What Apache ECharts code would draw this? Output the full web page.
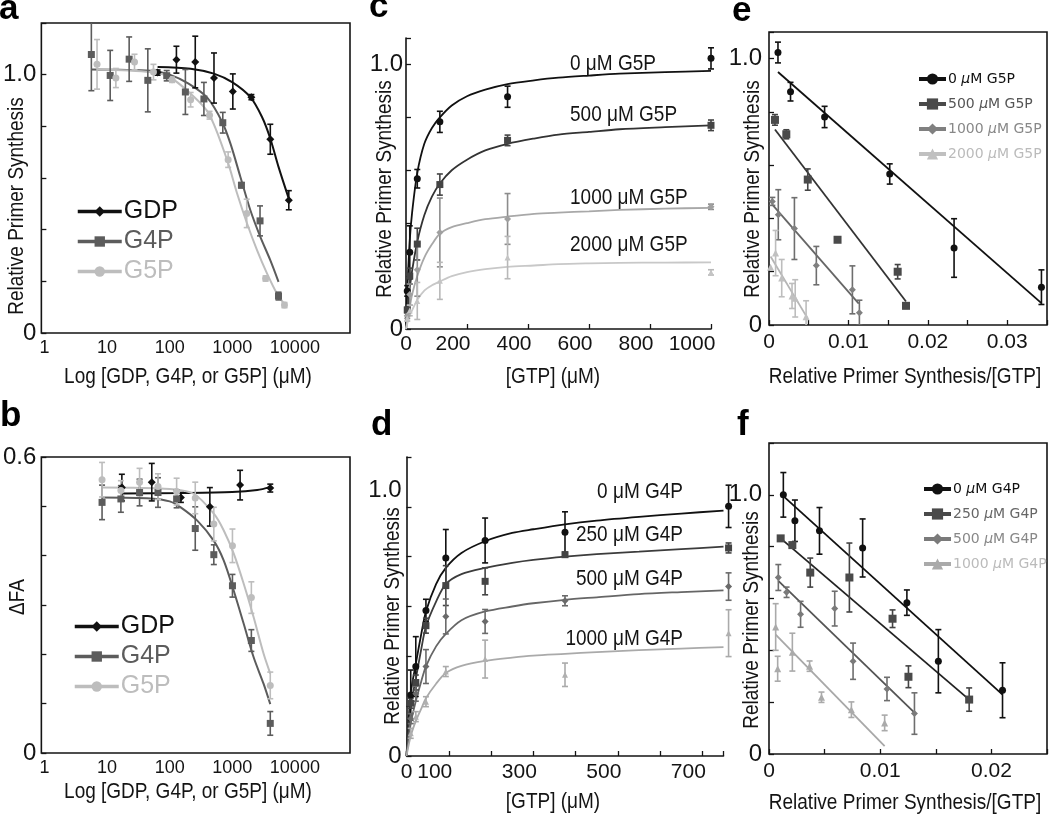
<!DOCTYPE html>
<html>
<head>
<meta charset="utf-8">
<script src="https://cdn.jsdelivr.net/npm/echarts@6/dist/echarts.min.js"></script>
<style>
  html, body { margin: 0; padding: 0; background: #fff; }
  #chart { width: 1050px; height: 816px; }
</style>
</head>
<body>
<div id="chart"></div>
<script>
// ---------- panel a : primer synthesis vs inhibitor (log) ----------
const aGdpConc = [64, 128, 256, 510, 1020, 2020, 4050, 8000];
const aGdpVal = [1.008, 1.058, 1.049, 0.987, 0.935, 0.913, 0.75, 0.514];
const aGdpErr = [0.01, 0.052, 0.1, 0.097, 0.068, 0.01, 0.058, 0.037];
const aG4pConc = [5.6, 11.2, 22.5, 44.7, 89.6, 178, 352, 705, 1400, 2775, 5480];
const aG4pVal = [1.078, 0.997, 1.06, 0.978, 0.996, 0.933, 0.906, 0.814, 0.572, 0.434, 0.143];
const aG4pErr = [0.14, 0.097, 0.086, 0.122, 0.02, 0.087, 0.064, 0.04, 0.01, 0.058, 0.015];
const aG5pConc = [6.9, 13.8, 27.4, 55, 109, 216, 433, 859, 1700, 3406, 6820];
const aG5pVal = [1.04, 0.987, 1.049, 1.01, 0.98, 0.903, 0.843, 0.671, 0.463, 0.211, 0.108];
const aG5pErr = [0.096, 0.037, 0.03, 0.03, 0.01, 0.028, 0.015, 0.03, 0.055, 0.01, 0.01];
// fitted curves
const aGdpFitX = [64, 216, 507, 994, 1945, 2985, 4045, 5480, 8000];
const aGdpFitY = [1.03, 1.023, 1.004, 0.971, 0.913, 0.836, 0.753, 0.643, 0.52];
const aG4pFitX = [5.6, 50, 100, 200, 400, 689, 935, 1348, 1945, 2805, 4045, 5480];
const aG4pFitY = [1.02, 1.015, 1.0, 0.965, 0.91, 0.817, 0.733, 0.604, 0.475, 0.372, 0.282, 0.198];
const aG5pFitX = [6.9, 50, 100, 214, 422, 828, 1194, 1722, 2484, 3583, 5168, 7010];
const aG5pFitY = [1.02, 1.01, 0.99, 0.927, 0.849, 0.669, 0.54, 0.424, 0.321, 0.231, 0.153, 0.108];

// ---------- panel b : delta FA vs inhibitor (log) ----------
const bGdpConc = [17.2, 51.7, 151, 438, 1333, 4045];
const bGdpVal = [0.538, 0.549, 0.518, 0.499, 0.543, 0.537];
const bGdpErr = [0.027, 0.038, 0.01, 0.039, 0.03, 0.008];
const bConc = [8.3, 16.6, 33, 65, 129, 256, 507, 1006, 2017, 4045];
const bG4pVal = [0.508, 0.515, 0.528, 0.528, 0.515, 0.455, 0.402, 0.339, 0.228, 0.06];
const bG4pErr = [0.035, 0.027, 0.027, 0.03, 0.018, 0.044, 0.02, 0.023, 0.022, 0.024];
const bG5pVal = [0.554, 0.532, 0.549, 0.54, 0.53, 0.517, 0.464, 0.42, 0.315, 0.137];
const bG5pErr = [0.035, 0.02, 0.028, 0.026, 0.027, 0.032, 0.034, 0.034, 0.032, 0.027];
const bGdpFitX = [17.2, 150, 1000, 2500, 4045];
const bGdpFitY = [0.526, 0.527, 0.529, 0.533, 0.539];
const bG4pFitX = [8.3, 50, 100, 150, 276, 507, 731, 1055, 1522, 2194, 3166, 4045];
const bG4pFitY = [0.518, 0.516, 0.51, 0.498, 0.471, 0.43, 0.39, 0.329, 0.262, 0.194, 0.14, 0.099];
const bG5pFitX = [8.3, 100, 244, 507, 731, 1055, 1522, 2194, 3166, 4045];
const bG5pFitY = [0.538, 0.535, 0.525, 0.485, 0.451, 0.404, 0.343, 0.275, 0.201, 0.161];

// ---------- panel c : GTP titration with G5P ----------
const cGtp = [4.1, 12.3, 37, 111, 333, 1000];
const c0Val = [0.144, 0.29, 0.568, 0.783, 0.878, 1.023];
const c0Err = [0.02, 0.1, 0.035, 0.04, 0.04, 0.04];
const c500Val = [0.072, 0.2, 0.321, 0.546, 0.713, 0.77];
const c500Err = [0.01, 0.03, 0.06, 0.04, 0.02, 0.02];
const c1000Val = [0.05, 0.13, 0.224, 0.365, 0.416, 0.462];
const c1000Err = [0.01, 0.04, 0.1, 0.13, 0.096, 0.01];
const c2000Val = [0.04, 0.07, 0.106, 0.182, 0.27, 0.214];
const c2000Err = [0.01, 0.02, 0.07, 0.07, 0.08, 0.01];
const cFitGtp = [0, 4, 12, 20, 37, 60, 85, 111, 150, 200, 260, 333, 420, 500, 600, 700, 850, 1000];
const c0Fit = [0, 0.14, 0.33, 0.44, 0.59, 0.7, 0.76, 0.8, 0.845, 0.88, 0.905, 0.926, 0.94, 0.95, 0.958, 0.965, 0.971, 0.976];
const c500Fit = [0, 0.06, 0.15, 0.22, 0.33, 0.43, 0.5, 0.55, 0.6, 0.64, 0.675, 0.7, 0.72, 0.735, 0.745, 0.755, 0.763, 0.77];
const c1000Fit = [0, 0.03, 0.08, 0.13, 0.2, 0.27, 0.32, 0.36, 0.385, 0.4, 0.415, 0.425, 0.435, 0.44, 0.445, 0.45, 0.455, 0.458];
const c2000Fit = [0, 0.02, 0.05, 0.07, 0.11, 0.145, 0.165, 0.18, 0.2, 0.215, 0.226, 0.235, 0.24, 0.245, 0.248, 0.25, 0.251, 0.252];
const cLabels = ['0 μM G5P', '500 μM G5P', '1000 μM G5P', '2000 μM G5P'];

// ---------- panel d : GTP titration with G4P ----------
const dGtp = [10, 22, 46, 93, 186, 375, 762];
const d0Val = [0.245, 0.359, 0.584, 0.795, 0.865, 0.898, 1.002];
const d0Err = [0.1, 0.12, 0.045, 0.114, 0.09, 0.082, 0.085];
const d250Val = [0.212, 0.295, 0.523, 0.684, 0.701, 0.808, 0.835];
const d250Err = [0.02, 0.03, 0.03, 0.08, 0.054, 0.01, 0.02];
const d500Val = [0.15, 0.25, 0.359, 0.56, 0.54, 0.623, 0.68];
const d500Err = [0.02, 0.03, 0.068, 0.07, 0.048, 0.02, 0.055];
const d1000Val = [0.091, 0.158, 0.218, 0.339, 0.389, 0.326, 0.493];
const d1000Err = [0.02, 0.02, 0.02, 0.02, 0.076, 0.047, 0.094];
const dFitGtp = [0, 10, 22, 35, 46, 70, 93, 130, 186, 250, 300, 375, 450, 550, 650, 750];
const d0Fit = [0, 0.25, 0.37, 0.49, 0.58, 0.69, 0.755, 0.815, 0.862, 0.895, 0.91, 0.93, 0.945, 0.96, 0.973, 0.985];
const d250Fit = [0, 0.2, 0.31, 0.43, 0.52, 0.62, 0.69, 0.73, 0.755, 0.775, 0.787, 0.8, 0.81, 0.82, 0.83, 0.84];
const d500Fit = [0, 0.13, 0.22, 0.3, 0.36, 0.44, 0.49, 0.545, 0.58, 0.6, 0.613, 0.627, 0.637, 0.65, 0.658, 0.665];
const d1000Fit = [0, 0.08, 0.14, 0.19, 0.232, 0.29, 0.333, 0.362, 0.382, 0.395, 0.403, 0.41, 0.417, 0.425, 0.431, 0.437];
const dLabels = ['0 μM G4P', '250 μM G4P', '500 μM G4P', '1000 μM G4P'];

// ---------- panel e : Eadie-Hofstee, G5P ----------
const e0X = [0.00113, 0.00271, 0.007, 0.0152, 0.0233, 0.0343];
const e0Y = [1.023, 0.876, 0.781, 0.567, 0.289, 0.142];
const e0Err = [0.039, 0.035, 0.04, 0.038, 0.11, 0.065];
const e500X = [0.00075, 0.00218, 0.00488, 0.00863, 0.0162, 0.01725];
const e500Y = [0.77, 0.716, 0.546, 0.32, 0.2, 0.072];
const e500Err = [0.02, 0.017, 0.04, 0, 0.027, 0];
const e1000X = [0.00042, 0.00117, 0.0032, 0.00596, 0.0105, 0.01138];
const e1000Y = [0.464, 0.414, 0.362, 0.223, 0.132, 0.046];
const e1000Err = [0.015, 0.094, 0.116, 0.072, 0.09, 0.047];
const e2000X = [0.0002, 0.00083, 0.0016, 0.0029, 0.0033, 0.00467];
const e2000Y = [0.217, 0.27, 0.176, 0.109, 0.1, 0.031];
const e2000Err = [0, 0.085, 0.07, 0.047, 0.07, 0.06];
const eFit0 = [[0.00113, 0.95], [0.0343, 0.082]];
const eFit500 = [[0.00075, 0.734], [0.01725, 0.088]];
const eFit1000 = [[0.00042, 0.452], [0.0113, 0.08]];
const eFit2000 = [[0.0002, 0.257], [0.00488, 0.024]];
const eNames = ['0 μM G5P', '500 μM G5P', '1000 μM G5P', '2000 μM G5P'];

// ---------- panel f : Eadie-Hofstee, G4P ----------
const f0X = [0.00129, 0.00233, 0.00454, 0.00842, 0.0124, 0.01523, 0.021];
const f0Y = [1.0, 0.9, 0.861, 0.795, 0.584, 0.358, 0.246];
const f0Err = [0.086, 0.08, 0.09, 0.112, 0.049, 0.122, 0.106];
const f250X = [0.00105, 0.0021, 0.00371, 0.00723, 0.01111, 0.01254, 0.018];
const f250Y = [0.832, 0.806, 0.7, 0.681, 0.522, 0.298, 0.21];
const f250Err = [0, 0.01, 0.056, 0.133, 0.034, 0.042, 0.045];
const f500X = [0.00084, 0.00158, 0.00284, 0.00591, 0.00756, 0.01061, 0.01308];
const f500Y = [0.681, 0.624, 0.539, 0.561, 0.358, 0.251, 0.156];
const f500Err = [0.05, 0.02, 0.05, 0.067, 0.07, 0.045, 0.08];
const f1000X = [0.0006, 0.00078, 0.0021, 0.00365, 0.00472, 0.00741, 0.0104];
const f1000Y = [0.49, 0.329, 0.393, 0.339, 0.219, 0.171, 0.12];
const f1000Err = [0.09, 0.048, 0.073, 0.02, 0.02, 0.03, 0.03];
const fFit0 = [[0.00129, 0.995], [0.021, 0.229]];
const fFit250 = [[0.00105, 0.832], [0.018, 0.21]];
const fFit500 = [[0.00084, 0.668], [0.01308, 0.16]];
const fFit1000 = [[0.0006, 0.461], [0.0104, 0.03]];

const FONT = '"Liberation Sans", Arial, Helvetica, sans-serif';
const INK = '#141414';

const chart = echarts.init(document.getElementById('chart'));

const zip = (xs, ys) => xs.map((x, i) => [x, ys[i]]);

// markers drawn as a line series with invisible line so the legend shows line + symbol
function points(g, name, xs, ys, color, symbol, size, clip = true) {
  return {
    type: 'line', name, xAxisIndex: g, yAxisIndex: g,
    data: zip(xs, ys), symbol, symbolSize: size, showSymbol: true,
    itemStyle: { color }, lineStyle: { opacity: 0, width: 0 },
    clip, z: 5, silent: true
  };
}

function errorBars(g, xs, ys, errs, color, clip = true) {
  return {
    type: 'custom', xAxisIndex: g, yAxisIndex: g, clip, z: 4, silent: true,
    encode: { x: 0, y: 1 },
    data: xs.map((x, i) => [x, ys[i], errs[i]]),
    renderItem: (params, api) => {
      const x = api.value(0), y = api.value(1), e = api.value(2);
      if (!(e > 0)) return null;
      const top = api.coord([x, y + e]);
      const bot = api.coord([x, y - e]);
      const w = 3, st = { stroke: color, lineWidth: 1.6 };
      return {
        type: 'group', children: [
          { type: 'line', shape: { x1: top[0], y1: top[1], x2: bot[0], y2: bot[1] }, style: st },
          { type: 'line', shape: { x1: top[0] - w, y1: top[1], x2: top[0] + w, y2: top[1] }, style: st },
          { type: 'line', shape: { x1: bot[0] - w, y1: bot[1], x2: bot[0] + w, y2: bot[1] }, style: st }
        ]
      };
    }
  };
}

function fitLine(g, data, color, width = 1.8) {
  return {
    type: 'line', xAxisIndex: g, yAxisIndex: g, data,
    smooth: 0.3, showSymbol: false, symbol: 'none',
    lineStyle: { color, width }, z: 3, silent: true
  };
}

const logLabel = v => {
  const l = Math.log10(v), r = Math.round(l);
  return Math.abs(l - r) < 1e-6 && r >= 0 ? String(Math.pow(10, r)) : '';
};
const oneLabel = v => Math.abs(v - 1) < 1e-6 ? '1.0' : (Math.abs(v) < 1e-9 ? '0' : '');

function logXAxis(g) {
  return {
    type: 'log', logBase: 10, gridIndex: g, min: 0.89, max: 76000,
    axisLine: { show: false }, axisTick: { show: false }, splitLine: { show: false },
    axisLabel: { formatter: logLabel, fontFamily: FONT, fontSize: 18, color: INK, margin: 6 }
  };
}

function valAxis(g, min, max, interval, formatter, opts = {}) {
  return {
    type: 'value', gridIndex: g, min, max, interval,
    axisLine: { show: !!opts.line, lineStyle: { color: INK, width: 1.6 } },
    axisTick: { show: true, inside: true, length: 5, lineStyle: { color: INK, width: 1.3 } },
    splitLine: { show: false },
    axisLabel: {
      formatter, fontFamily: FONT, fontSize: opts.fontSize || 24, color: INK,
      margin: opts.margin || 5, lineHeight: opts.lineHeight, rich: opts.rich
    }
  };
}

const boxGrid = (left, top, width, height) =>
  ({ left, top, width, height, show: true, borderColor: INK, borderWidth: 1.6, backgroundColor: 'transparent' });
const openGrid = (left, top, width, height) => ({ left, top, width, height, show: false });

const grid = [
  boxGrid(40, 23, 310, 310),      // a
  boxGrid(40, 457, 310, 296),     // b
  openGrid(406, 38, 305, 291),    // c
  openGrid(406.5, 457, 317, 299), // d
  boxGrid(769, 32, 279, 293),     // e
  boxGrid(769, 443, 279, 311)     // f
];

const eFmt = v => {
  const r = Math.round(v * 1000);
  if (r === 0) return '0';
  return r % 10 === 0 ? (r / 1000).toFixed(2) : '';
};
// the GTP tick labels of c and d sit a little left of their ticks in the figure
const shiftRich = {
  s: { fontFamily: FONT, fontSize: 21, color: INK, padding: [0, 28, 0, 0] },
  w: { fontFamily: FONT, fontSize: 21, color: INK, padding: [0, 38, 0, 0] }
};
const cFmt = v => v === 0 ? '0' : (v === 1000 ? '{w|1000}' : '{s|' + v + '}');
const dFmt = v => {
  const r = Math.round(v);
  if (r === 0) return '0';
  return [100, 300, 500, 700].includes(r) ? '{s|' + r + '}' : '';
};
const dYFmt = v => Math.abs(v - 1) < 1e-6 ? '1.0\n ' : (Math.abs(v) < 1e-9 ? '0' : '');

const xAxis = [
  logXAxis(0),
  logXAxis(1),
  valAxis(2, 0, 1000, 200, cFmt, { line: true, fontSize: 21, margin: 5, rich: shiftRich }),
  valAxis(3, 0, 750, 100, dFmt, { line: true, fontSize: 21, margin: 6, rich: shiftRich }),
  valAxis(4, 0, 0.035, 0.005, eFmt, { fontSize: 21, margin: 7 }),
  valAxis(5, 0, 0.025, 0.005, eFmt, { fontSize: 21, margin: 7 })
];

const yAxis = [
  valAxis(0, 0, 1.2, 0.2, oneLabel),
  valAxis(1, 0, 0.6, 0.1, v => Math.abs(v - 0.6) < 1e-6 ? '0.6' : (Math.abs(v) < 1e-9 ? '0' : '')),
  valAxis(2, 0, 1.1, 0.2, oneLabel, { line: true, margin: 3 }),
  valAxis(3, 0, 1.2, 0.2, dYFmt, { line: true, margin: 5, lineHeight: 32 }),
  valAxis(4, 0, 1.1, 0.2, oneLabel, { margin: 7 }),
  valAxis(5, 0, 1.2, 0.2, oneLabel, { margin: 7 })
];

const GDP = '#111111', G4P = '#5c5c5c', G5P = '#bdbdbd';

const series = [
  // a
  fitLine(0, zip(aGdpFitX, aGdpFitY), GDP, 2),
  fitLine(0, zip(aG4pFitX, aG4pFitY), G4P, 2),
  fitLine(0, zip(aG5pFitX, aG5pFitY), G5P, 2),
  errorBars(0, aGdpConc, aGdpVal, aGdpErr, GDP),
  errorBars(0, aG4pConc, aG4pVal, aG4pErr, G4P),
  errorBars(0, aG5pConc, aG5pVal, aG5pErr, G5P),
  points(0, 'GDP', aGdpConc, aGdpVal, GDP, 'diamond', 8),
  points(0, 'G4P', aG4pConc, aG4pVal, G4P, 'rect', 7),
  points(0, 'G5P', aG5pConc, aG5pVal, G5P, 'circle', 7),
  // b
  fitLine(1, zip(bGdpFitX, bGdpFitY), GDP, 2),
  fitLine(1, zip(bG4pFitX, bG4pFitY), G4P, 2),
  fitLine(1, zip(bG5pFitX, bG5pFitY), G5P, 2),
  errorBars(1, bGdpConc, bGdpVal, bGdpErr, GDP),
  errorBars(1, bConc, bG4pVal, bG4pErr, G4P),
  errorBars(1, bConc, bG5pVal, bG5pErr, G5P),
  points(1, 'GDP', bGdpConc, bGdpVal, GDP, 'diamond', 8),
  points(1, 'G4P', bConc, bG4pVal, G4P, 'rect', 7),
  points(1, 'G5P', bConc, bG5pVal, G5P, 'circle', 7),
  // c
  fitLine(2, zip(cFitGtp, c0Fit), '#111'),
  fitLine(2, zip(cFitGtp, c500Fit), '#333'),
  fitLine(2, zip(cFitGtp, c1000Fit), '#a8a8a8'),
  fitLine(2, zip(cFitGtp, c2000Fit), '#c8c8c8'),
  errorBars(2, cGtp, c0Val, c0Err, '#111', false),
  errorBars(2, cGtp, c500Val, c500Err, '#444', false),
  errorBars(2, cGtp, c1000Val, c1000Err, '#8c8c8c', false),
  errorBars(2, cGtp, c2000Val, c2000Err, '#b8b8b8', false),
  points(2, 'c0', cGtp, c0Val, '#111', 'circle', 7, false),
  points(2, 'c500', cGtp, c500Val, '#444', 'rect', 7, false),
  points(2, 'c1000', cGtp, c1000Val, '#a0a0a0', 'diamond', 7, false),
  points(2, 'c2000', cGtp, c2000Val, '#c4c4c4', 'triangle', 6, false),
  // d
  fitLine(3, zip(dFitGtp, d0Fit), '#111'),
  fitLine(3, zip(dFitGtp, d250Fit), '#3c3c3c'),
  fitLine(3, zip(dFitGtp, d500Fit), '#666'),
  fitLine(3, zip(dFitGtp, d1000Fit), '#aaa'),
  errorBars(3, dGtp, d0Val, d0Err, '#111', false),
  errorBars(3, dGtp, d250Val, d250Err, '#444', false),
  errorBars(3, dGtp, d500Val, d500Err, '#6a6a6a', false),
  errorBars(3, dGtp, d1000Val, d1000Err, '#aaa', false),
  points(3, 'd0', dGtp, d0Val, '#111', 'circle', 7, false),
  points(3, 'd250', dGtp, d250Val, '#444', 'rect', 7, false),
  points(3, 'd500', dGtp, d500Val, '#6a6a6a', 'diamond', 7, false),
  points(3, 'd1000', dGtp, d1000Val, '#b0b0b0', 'triangle', 6, false),
  // e
  fitLine(4, eFit0, '#111'),
  fitLine(4, eFit500, '#333'),
  fitLine(4, eFit1000, '#666'),
  fitLine(4, eFit2000, '#b5b5b5'),
  errorBars(4, e0X, e0Y, e0Err, '#111'),
  errorBars(4, e500X, e500Y, e500Err, '#444'),
  errorBars(4, e1000X, e1000Y, e1000Err, '#6e6e6e'),
  errorBars(4, e2000X, e2000Y, e2000Err, '#bdbdbd'),
  points(4, eNames[0], e0X, e0Y, '#111', 'circle', 7),
  points(4, eNames[1], e500X, e500Y, '#4a4a4a', 'rect', 8),
  points(4, eNames[2], e1000X, e1000Y, '#808080', 'diamond', 7),
  points(4, eNames[3], e2000X, e2000Y, '#c0c0c0', 'triangle', 7),
  // f
  fitLine(5, fFit0, '#111'),
  fitLine(5, fFit250, '#222'),
  fitLine(5, fFit500, '#555'),
  fitLine(5, fFit1000, '#a8a8a8'),
  errorBars(5, f0X, f0Y, f0Err, '#111'),
  errorBars(5, f250X, f250Y, f250Err, '#444'),
  errorBars(5, f500X, f500Y, f500Err, '#6e6e6e'),
  errorBars(5, f1000X, f1000Y, f1000Err, '#aaa'),
  points(5, dLabels[0], f0X, f0Y, '#111', 'circle', 7),
  points(5, dLabels[1], f250X, f250Y, '#4a4a4a', 'rect', 8),
  points(5, dLabels[2], f500X, f500Y, '#7a7a7a', 'diamond', 7),
  points(5, dLabels[3], f1000X, f1000Y, '#aaaaaa', 'triangle', 7)
];

function bigLegend(left, top) {
  return {
    left, top, orient: 'vertical', selectedMode: false,
    itemWidth: 44, itemHeight: 13, itemGap: 5,
    lineStyle: { width: 3.5, opacity: 1 },
    textStyle: { fontFamily: FONT, fontSize: 25, padding: [0, 0, 0, -3] },
    data: [
      { name: 'GDP', textStyle: { color: GDP } },
      { name: 'G4P', textStyle: { color: G4P } },
      { name: 'G5P', textStyle: { color: G5P } }
    ]
  };
}

function smallLegend(left, top, names, colors) {
  return {
    left, top, orient: 'vertical', selectedMode: false,
    itemWidth: 27, itemHeight: 14, itemGap: 11,
    lineStyle: { width: 4, opacity: 1 },
    formatter: name => name.replace('μ', '{i|μ}'),
    textStyle: {
      fontFamily: '"DejaVu Sans", Verdana, sans-serif', fontSize: 14, padding: [0, 0, 0, -3],
      rich: { i: { fontStyle: 'italic', fontFamily: '"DejaVu Sans", sans-serif', fontSize: 14 } }
    },
    data: names.map((n, i) => ({ name: n, textStyle: { color: colors[i] } }))
  };
}

const legend = [
  bigLegend(71, 194),
  bigLegend(68, 609),
  smallLegend(912, 67, eNames, ['#111', '#555', '#888', '#bbb']),
  smallLegend(917, 477, dLabels, ['#111', '#666', '#888', '#bbb'])
];

// text annotations (Helvetica in the figure is drawn taller, hence scaleY)
const txt = (x, y, text, size, opts = {}) => ({
  type: 'text', x, y, rotation: opts.rotation || 0, scaleY: opts.scaleY || 1, silent: true,
  style: {
    text, fontSize: size, fontFamily: opts.family || FONT, fontWeight: opts.weight || 'normal',
    fill: opts.fill || INK, align: opts.align || 'center', verticalAlign: opts.valign || 'middle'
  }
});
const letter = (x, y, t) => txt(x, y, t, 35, { weight: 'bold', align: 'left', valign: 'bottom', fill: '#000' });
const vTitle = (x, y, t) => txt(x, y, t, 19, { rotation: Math.PI / 2, scaleY: 1.2 });
const hTitle = (x, y, t) => txt(x, y, t, 19, { scaleY: 1.2 });

const graphicEls = [
  letter(-1, 27, 'a'), letter(0, 434, 'b'), letter(369, 25, 'c'),
  letter(371, 443, 'd'), letter(732, 29, 'e'), letter(737, 443, 'f'),
  vTitle(17, 206, 'Relative Primer Synthesis'),
  hTitle(188, 377, 'Log [GDP, G4P, or G5P] (μM)'),
  vTitle(18, 597, 'ΔFA'),
  hTitle(188, 792, 'Log [GDP, G4P, or G5P] (μM)'),
  vTitle(385, 189, 'Relative Primer Synthesis'),
  hTitle(553, 377, '[GTP] (μM)'),
  vTitle(393, 616, 'Relative Primer Synthesis'),
  hTitle(553, 802, '[GTP] (μM)'),
  vTitle(753, 189, 'Relative Primer Synthesis'),
  hTitle(905, 377, 'Relative Primer Synthesis/[GTP]'),
  vTitle(752, 620, 'Relative Primer Synthesis'),
  hTitle(905, 803, 'Relative Primer Synthesis/[GTP]')
];
// curve labels of c (left aligned) and d (right aligned)
const cLabelY = [64, 115, 198, 245];
cLabels.forEach((t, i) => graphicEls.push(txt(570, cLabelY[i], t, 19, { align: 'left', scaleY: 1.2 })));
const dLabelY = [492, 535, 579, 639];
dLabels.forEach((t, i) => graphicEls.push(txt(683, dLabelY[i], t, 19, { align: 'right', scaleY: 1.2 })));

chart.setOption({
  animation: false,
  backgroundColor: '#fff',
  grid, xAxis, yAxis, series, legend,
  graphic: { elements: graphicEls }
});
</script>
</body>
</html>
